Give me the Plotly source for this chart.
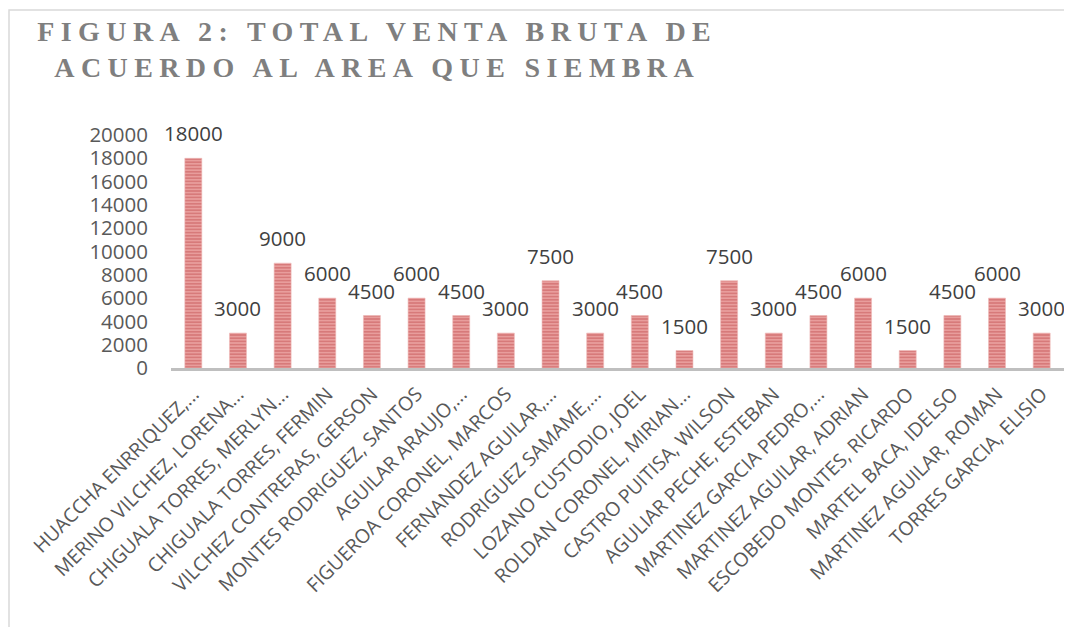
import plotly.graph_objects as go

# datos
productores = [
    'HUACCHA ENRRIQUEZ,...', 'MERINO VILCHEZ, LORENA...', 'CHIGUALA TORRES, MERLYN...',
    'CHIGUALA TORRES, FERMIN', 'VILCHEZ CONTRERAS, GERSON', 'MONTES RODRIGUEZ, SANTOS',
    'AGUILAR ARAUJO,...', 'FIGUEROA CORONEL, MARCOS', 'FERNANDEZ AGUILAR,...',
    'RODRIGUEZ SAMAME,...', 'LOZANO CUSTODIO, JOEL', 'ROLDAN CORONEL, MIRIAN...',
    'CASTRO PUITISA, WILSON', 'AGULIAR PECHE, ESTEBAN', 'MARTINEZ GARCIA PEDRO,...',
    'MARTINEZ AGUILAR, ADRIAN', 'ESCOBEDO MONTES, RICARDO', 'MARTEL BACA, IDELSO',
    'MARTINEZ AGUILAR, ROMAN', 'TORRES GARCIA, ELISIO',
]
venta_bruta = [18000, 3000, 9000, 6000, 4500, 6000, 4500, 3000, 7500, 3000,
               4500, 1500, 7500, 3000, 4500, 6000, 1500, 4500, 6000, 3000]
y_ticks = [0, 2000, 4000, 6000, 8000, 10000, 12000, 14000, 16000, 18000, 20000]

titulo_1 = 'FIGURA 2: TOTAL VENTA BRUTA DE'
titulo_2 = 'ACUERDO AL AREA QUE SIEMBRA'

fig = go.Figure()

fig.add_trace(go.Bar(
    x=productores,
    y=venta_bruta,
    marker=dict(
        color='#eba5a4',
        line=dict(color='#eeb8b7', width=0.6),
        pattern=dict(shape='-', fgcolor='#c4504f', size=3.2, solidity=0.6, fillmode='overlay'),
    ),
    hovertemplate='%{x}: %{y}<extra></extra>',
))

# etiquetas de datos encima de cada barra
for nombre, valor in zip(productores, venta_bruta):
    fig.add_annotation(
        x=nombre, y=valor, text=str(valor),
        showarrow=False, yanchor='middle', yshift=25,
        font=dict(family='Open Sans', size=20.5, color='#404040'),
    )

# marco del area del grafico
fig.add_shape(
    type='rect', xref='paper', yref='paper',
    x0=-0.1814, x1=1.03, y0=-1.2, y1=1.5365,
    line=dict(color='#d9d9d9', width=1.5), fillcolor='rgba(0,0,0,0)', layer='below',
)

span = '<span style="letter-spacing:6.4px">{}</span>'
fig.update_layout(
    title=dict(
        text=span.format(titulo_1) + '<br>' + span.format(titulo_2),
        xref='container', yref='container',
        x=0.347, xanchor='center', y=0.947, yanchor='top',
        font=dict(family='Liberation Serif', size=28, color='#7f7f7f', weight='bold'),
    ),
    width=1064,
    height=619,
    margin=dict(l=163, r=8, t=127, b=259, autoexpand=False),
    bargap=0.62,
    showlegend=False,
    plot_bgcolor='white',
    paper_bgcolor='white',
)

fig.update_xaxes(
    automargin=False,
    range=[-0.5, len(productores) - 0.5],
    showgrid=False,
    showline=True,
    linecolor='#bfbfbf',
    linewidth=3,
    tickangle=-45,
    ticks='',
    ticklabelstandoff=4,
    tickfont=dict(family='Open Sans', size=19.5, color='#595959'),
)
fig.update_yaxes(
    automargin=False,
    range=[0, 20000],
    tickvals=y_ticks,
    ticktext=[str(v) for v in y_ticks],
    showgrid=False,
    zeroline=False,
    showline=False,
    ticks='',
    ticklabelstandoff=22,
    tickfont=dict(family='Open Sans', size=20.5, color='#595959'),
)

fig.write_html('out.html')
